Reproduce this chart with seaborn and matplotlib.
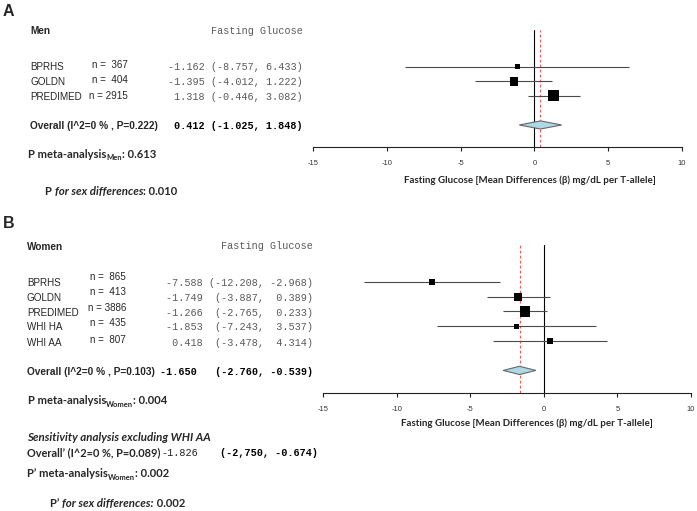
import numpy as np
import pandas as pd
import matplotlib
matplotlib.use("Agg")
import matplotlib.pyplot as plt
import seaborn as sns

# ---------------- data ----------------
men_studies = ["BPRHS", "GOLDN", "PREDIMED"]
men_n = [367, 404, 2915]
men_est = [-1.162, -1.395, 1.318]
men_lo = [-8.757, -4.012, -0.446]
men_hi = [6.433, 1.222, 3.082]
men_overall = [0.412, -1.025, 1.848]
men_overall_label = "Overall (I^2=0 % , P=0.222)"
men_p_meta = "0.613"
p_sex = "0.010"

women_studies = ["BPRHS", "GOLDN", "PREDIMED", "WHI HA", "WHI AA"]
women_n = [865, 413, 3886, 435, 807]
women_est = [-7.588, -1.749, -1.266, -1.853, 0.418]
women_lo = [-12.208, -3.887, -2.765, -7.243, -3.478]
women_hi = [-2.968, 0.389, 0.233, 3.537, 4.314]
women_overall = [-1.650, -2.760, -0.539]
women_overall_label = "Overall (I^2=0 % , P=0.103)"
women_p_meta = "0.004"

sens_title = "Sensitivity analysis excluding WHI AA"
sens_label = "Overall\u2019 (I^2=0 %, P=0.089)"
sens_est = "-1.826"
sens_ci = "(-2,750, -0.674)"
sens_p_meta = "0.002"
sens_p_sex = "0.002"

xticks = [-15, -10, -5, 0, 5, 10]
xlabel = "Fasting Glucose [Mean Differences (\u03b2) mg/dL per T-allele]"
outcome = "Fasting Glucose"

# ---------------- style ----------------
sns.set_style("white")
plt.rcParams["font.family"] = ["Liberation Sans", "DejaVu Sans"]

W, H = 697, 511
fig = plt.figure(figsize=(W / 100, H / 100), dpi=100)
fig.patch.set_facecolor("white")

SANS = "Liberation Sans"
MONO = "Liberation Mono"
CAL = "Lato"
GRAY = "#5a5a5a"


def put(x, y, s, ha="left", va="center", **kw):
    return fig.text(x / W, 1 - y / H, s, ha=ha, va=va, **kw)


def seq(x, y, pieces):
    """pieces: list of (text, kwargs, dy_px); y is baseline in px"""
    fig.canvas.draw()
    r = fig.canvas.get_renderer()
    cx = x
    for s, kw, dy in pieces:
        t = fig.text(cx / W, 1 - (y + dy) / H, s, ha="left", va="baseline", **kw)
        bb = t.get_window_extent(r)
        cx = bb.x1


def forest(ax, est, lo, hi, overall, rows, yover, ylim):
    w = 1.0 / ((np.array(hi) - np.array(lo)) / 3.92) ** 2
    pct = 100 * w / w.sum()
    side_px = 3.2 + 0.96 * np.sqrt(pct)
    df = pd.DataFrame({"est": est, "lo": lo, "hi": hi, "row": rows,
                       "s": (side_px * 0.72) ** 2})
    ax.hlines(df["row"], df["lo"], df["hi"], color="#4a4a4a", lw=0.8, zorder=2)
    sns.scatterplot(data=df, x="est", y="row", marker="s", s=df["s"].values,
                    color="black", linewidth=0, ax=ax, legend=False, zorder=4)
    ax.axvline(0, color="black", lw=0.8, zorder=1)
    ax.axvline(overall[0], color="#ff5555", lw=0.8, ls=(0, (2.5, 2)), zorder=1)
    h = 0.28
    ax.fill([overall[1], overall[0], overall[2], overall[0]],
            [yover, yover - h, yover, yover + h],
            facecolor="#ADD8E6", edgecolor="#666666", lw=0.8, zorder=3)
    ax.set_xlim(-15, 10)
    ax.set_ylim(*ylim)
    ax.set_xticks(xticks)
    ax.set_xticklabels([str(t) for t in xticks])
    ax.set_yticks([])
    ax.set_xlabel("")
    ax.set_ylabel("")
    for sp in ["top", "left", "right"]:
        ax.spines[sp].set_visible(False)
    ax.spines["bottom"].set_color("#222222")
    ax.spines["bottom"].set_linewidth(0.8)
    ax.tick_params(axis="x", bottom=True, length=3, width=0.8, color="#222222",
                   labelsize=5.5, labelcolor="#333333", pad=6)
    ax.patch.set_alpha(0)


# ---------------- panel A ----------------
axA = fig.add_axes([313 / W, 1 - 147 / H, 369 / W, (147 - 30) / H])
forest(axA, men_est, men_lo, men_hi, men_overall, [1, 2, 3], 5, (6.52, -1.55))

put(3, 12, "A", fontsize=11.5, fontweight="bold", family=SANS)
put(30, 31, "Men", fontsize=7.2, fontweight="bold", family=SANS)
put(303, 31, outcome, ha="right", fontsize=7.3, family=MONO, color=GRAY)
ya = [67, 82, 97]
yn = [65, 80, 96]
for i, s in enumerate(men_studies):
    put(30, ya[i], s, fontsize=7.1, family=SANS)
    put(128, yn[i], f"n = {men_n[i]:>4}", ha="right", fontsize=7.1, family=SANS)
    put(303, ya[i], f"{men_est[i]:.3f} ({men_lo[i]:.3f}, {men_hi[i]:.3f})",
        ha="right", fontsize=7.3, family=MONO, color=GRAY)
put(30, 126, men_overall_label, fontsize=7.3, fontweight="bold", family=SANS)
put(303, 126, f"{men_overall[0]:.3f} ({men_overall[1]:.3f}, {men_overall[2]:.3f})",
    ha="right", fontsize=7.3, family=MONO, fontweight="bold", color="black")
put(530, 180, xlabel, ha="center", fontsize=7, fontweight="bold", family=CAL)

bold8 = dict(fontsize=8, fontweight="bold", family=CAL)
sub = dict(fontsize=5.5, fontweight="bold", family=CAL)
bi8 = dict(fontsize=8.3, fontweight="bold", style="italic", family=CAL)
seq(28, 158, [("P meta-analysis", bold8, 0), ("Men", sub, 2.5), (": " + men_p_meta, bold8, 0)])
seq(45, 195, [("P ", bold8, 0), ("for sex differences", bi8, 0), (": " + p_sex, bold8, 0)])

# ---------------- panel B ----------------
axB = fig.add_axes([323 / W, 1 - 393 / H, 368 / W, (393 - 245) / H])
forest(axB, women_est, women_lo, women_hi, women_overall, [1, 2, 3, 4, 5], 7, (8.53, -1.5))

put(3, 223, "B", fontsize=11.5, fontweight="bold", family=SANS)
put(27, 247, "Women", fontsize=7.2, fontweight="bold", family=SANS)
put(313, 246, outcome, ha="right", fontsize=7.3, family=MONO, color=GRAY)
yb = [283, 298, 313, 327, 343]
ybn = [277, 292, 308, 323, 340]
for i, s in enumerate(women_studies):
    put(27, yb[i], s, fontsize=7.1, family=SANS)
    put(126, ybn[i], f"n = {women_n[i]:>4}", ha="right", fontsize=7.1, family=SANS)
    lo_s = "(" + f"{women_lo[i]:.3f}"
    put(313, yb[i], f"{women_est[i]:6.3f} {lo_s:>8}, {women_hi[i]:6.3f})",
        ha="right", fontsize=7.3, family=MONO, color=GRAY)
put(27, 372, women_overall_label, fontsize=7.3, fontweight="bold", family=SANS)
put(313, 372, f"{women_overall[0]:.3f}   ({women_overall[1]:.3f}, {women_overall[2]:.3f})",
    ha="right", fontsize=7.3, family=MONO, fontweight="bold", color="black")
put(527, 423, xlabel, ha="center", fontsize=7, fontweight="bold", family=CAL)

seq(28, 404, [("P meta-analysis", bold8, 0), ("Women", sub, 2.5), (": " + women_p_meta, bold8, 0)])
seq(27, 441, [(sens_title, bi8, 0)])
put(27, 453, sens_label, fontsize=7.9, fontweight="bold", family=CAL)
put(161, 453, sens_est, fontsize=7.3, family=MONO, color="#222222")
put(220, 453, sens_ci, fontsize=7.3, family=MONO, fontweight="bold", color="black")
seq(27, 477, [("P\u2019 meta-analysis", bold8, 0), ("Women", sub, 2.5), (": " + sens_p_meta, bold8, 0)])
seq(50, 507, [("P\u2019 ", bold8, 0), ("for sex differences:", bi8, 0), (" " + sens_p_sex, bold8, 0)])

fig.savefig("out.png", dpi=100, facecolor="white")
